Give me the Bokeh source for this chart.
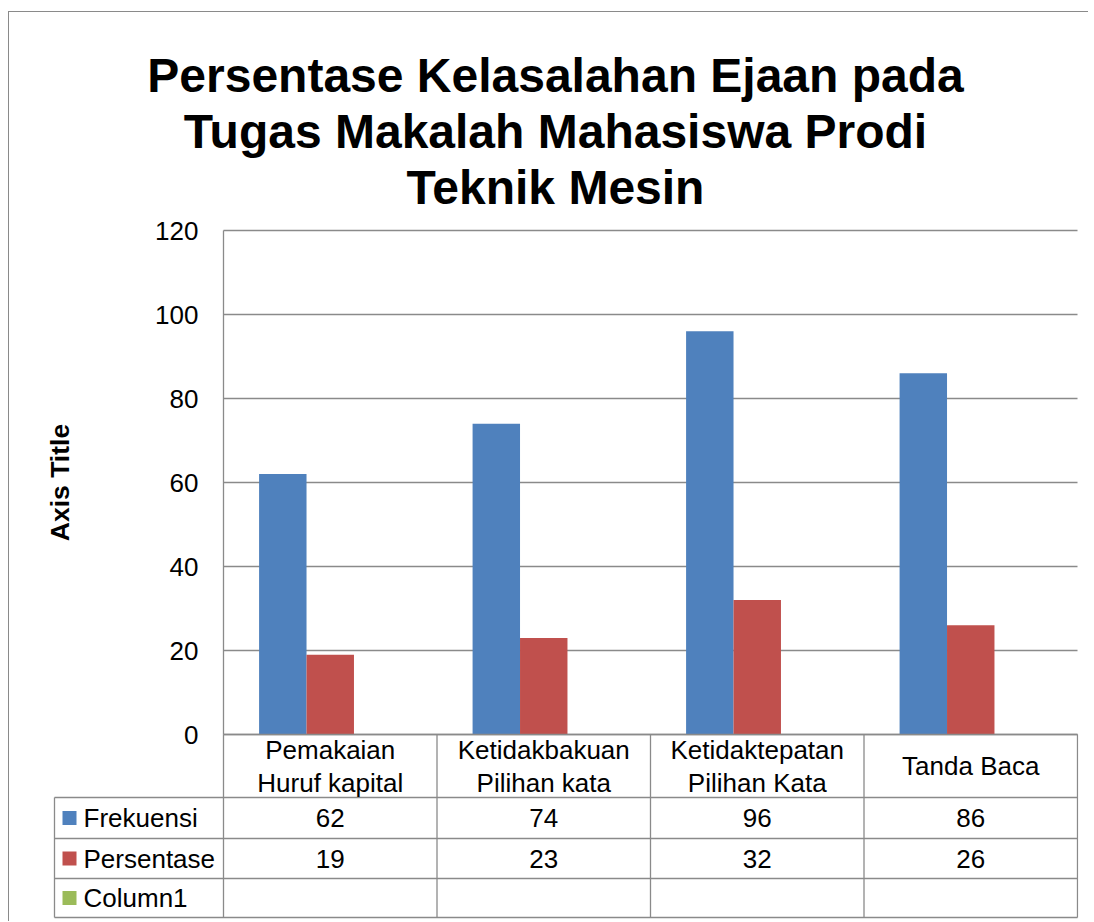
from bokeh.plotting import figure
from bokeh.models import Range1d, FixedTicker
from bokeh.embed import file_html
from bokeh.resources import INLINE
from bokeh.core.properties import value

# ---------------- data ----------------
title_text = "Persentase Kelasalahan Ejaan pada\nTugas Makalah Mahasiswa Prodi\nTeknik Mesin"
categories = ["Pemakaian\nHuruf kapital", "Ketidakbakuan\nPilihan kata",
              "Ketidaktepatan\nPilihan Kata", "Tanda Baca"]
series_names = ["Frekuensi", "Persentase", "Column1"]
frekuensi = [62, 74, 96, 86]
persentase = [19, 23, 32, 26]
column1 = [None, None, None, None]
y_ticks = [0, 20, 40, 60, 80, 100, 120]
y_axis_title = "Axis Title"

# ---------------- style / layout (page pixels) ----------------
FONT = "Liberation Sans"
GRAY = "#8a8a8a"
COLORS = ["#4F81BD", "#C0504D", "#9BBB59"]
ORIGIN_X, ORIGIN_Y = 9, 12            # canvas position on page (after border)
W, H = 1080, 910
PLOT_L, PLOT_T, PLOT_R, PLOT_B = 223, 230, 1077, 734   # plot area
FR_L, FR_R, FR_T, FR_B = 32, 1078, 12, 920             # bokeh frame
LEG_L = 54
ROW_PX = [0, 63, 104, 144, 183]      # table row boundaries below the plot area
TITLE_CX, TITLE_CY = 555, 131
LW = 1.3

n = len(categories)
ppu = (PLOT_R - PLOT_L) / n
y_max = y_ticks[-1]
ppy = (PLOT_B - PLOT_T) / y_max

def xd(px):  # page x -> data x
    return -0.5 + (px - PLOT_L) / ppu

def yd(py):  # page y -> data y
    return (PLOT_B - py) / ppy

p = figure(width=W, height=H,
           x_range=Range1d(xd(FR_L), xd(FR_R)), y_range=Range1d(yd(FR_B), yd(FR_T)),
           output_backend="svg", toolbar_location=None,
           min_border_left=FR_L - ORIGIN_X, min_border_right=ORIGIN_X + W - FR_R,
           min_border_top=FR_T - ORIGIN_Y, min_border_bottom=ORIGIN_Y + H - FR_B,
           x_axis_location=None,
           margin=(11, 0, 0, 8),
           styles={"border-left": f"1px solid {GRAY}", "border-top": f"1px solid {GRAY}"})
p.outline_line_color = None
p.grid.visible = False

# y axis placed at the plot-area's left edge
ax = p.yaxis[0]
ax.fixed_location = -0.5
ax.bounds = (0, y_max)
ax.ticker = FixedTicker(ticks=y_ticks)
ax.major_tick_line_color = None
ax.minor_tick_line_color = None
ax.axis_line_color = GRAY
ax.axis_line_width = LW
ax.major_label_text_font = FONT
ax.major_label_text_font_size = "26px"
ax.major_label_text_color = "black"
ax.major_label_standoff = 19
ax.axis_label = y_axis_title
ax.axis_label_text_font = FONT
ax.axis_label_text_font_size = "26.5px"
ax.axis_label_text_font_style = "bold"
ax.axis_label_text_color = "black"
ax.axis_label_standoff = 77

# horizontal gridlines over the plot area
p.segment(x0=[-0.5] * len(y_ticks), y0=y_ticks, x1=[n - 0.5] * len(y_ticks), y1=y_ticks,
          line_color=GRAY, line_width=LW)

# bars
bw = 1.0 / (len(series_names) + 1.5)
all_series = [frekuensi, persentase, column1]
for k, vals in enumerate(all_series):
    xs = [i + (k - 1) * bw for i in range(n) if vals[i] is not None]
    tops = [v for v in vals if v is not None]
    if xs:
        p.vbar(x=xs, top=tops, bottom=0, width=bw, fill_color=COLORS[k], line_color=None)

# title
p.text(x=[xd(TITLE_CX)], y=[yd(TITLE_CY)], text=[title_text],
       text_align="center", text_baseline="middle", text_font=value(FONT),
       text_font_size="48px", text_font_style="bold", text_color="black",
       text_line_height=1.055)

# ---------------- data table ----------------
x_left = xd(LEG_L)
row_y = [yd(PLOT_B + r) for r in ROW_PX]
hx0 = [-0.5] + [x_left] * (len(row_y) - 1)
hx1 = [n - 0.5] * len(row_y)
p.segment(x0=hx0, y0=row_y, x1=hx1, y1=row_y, line_color=GRAY, line_width=LW)
vx = [x_left] + [i - 0.5 for i in range(n + 1)]
vy0 = [row_y[1]] + [row_y[0]] * (n + 1)
vy1 = [row_y[-1]] * (n + 2)
p.segment(x0=vx, y0=vy0, x1=vx, y1=vy1, line_color=GRAY, line_width=LW)

p.text(x=list(range(n)), y=[(row_y[0] + row_y[1]) / 2] * n, text=categories,
       text_align="center", text_baseline="middle", text_font=value(FONT),
       text_font_size="26px", text_color="black", text_line_height=1.1)

for k, (name, vals) in enumerate(zip(series_names, all_series)):
    cy = (row_y[k + 1] + row_y[k + 2]) / 2
    p.scatter(x=[xd(LEG_L + 15)], y=[cy], marker="square", size=14,
              fill_color=COLORS[k], line_color=None)
    p.text(x=[xd(LEG_L + 29)], y=[cy], text=[name], text_align="left",
           text_baseline="middle", text_font=value(FONT), text_font_size="26px",
           text_color="black")
    xs = [i for i in range(n) if vals[i] is not None]
    ts = [str(v) for v in vals if v is not None]
    if xs:
        p.text(x=xs, y=[cy] * len(xs), text=ts, text_align="center",
               text_baseline="middle", text_font=value(FONT), text_font_size="26px",
               text_color="black")

open("out.html", "w").write(file_html(p, INLINE))
